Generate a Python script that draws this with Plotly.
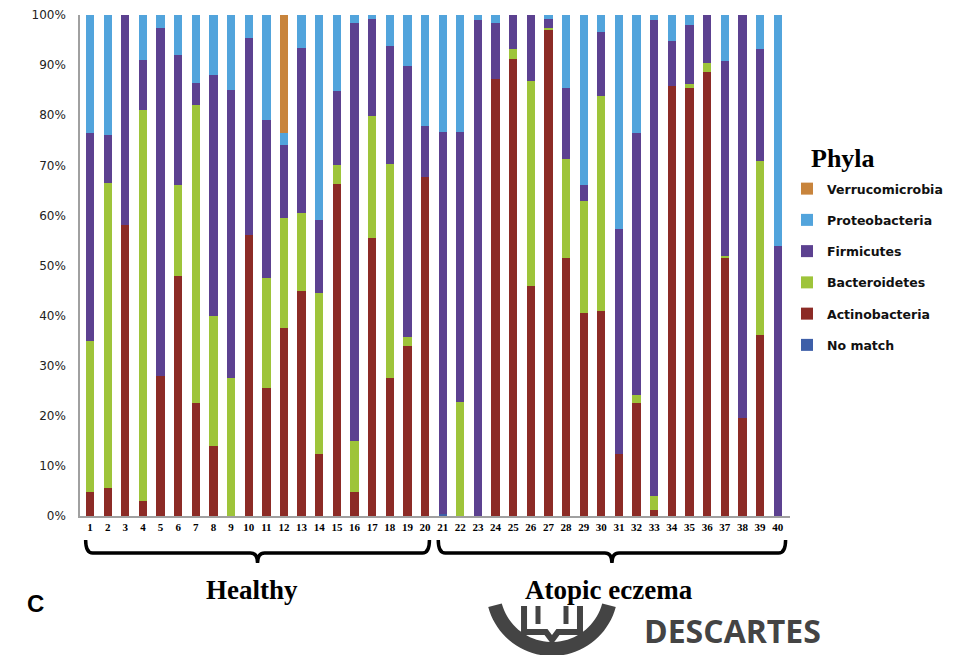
import numpy as np
import plotly.graph_objects as go

samples = [str(i) for i in range(1, 41)]

no_match = [0, 0, 0, 0, 0, 0, 0, 0, 0, 0,
            0, 0, 0, 0, 0, 0, 0, 0, 0, 0,
            0.5, 0, 0, 0, 0, 0, 0, 0, 0, 0,
            0, 0, 0, 0, 0, 0, 0, 0, 0, 0]
actinobacteria = [4.8, 5.5, 58, 3, 28, 48, 22.5, 14, 0, 56,
                  25.5, 37.5, 45, 12.3, 66.3, 4.8, 55.5, 27.5, 34, 67.7,
                  0, 0, 0, 87.3, 91.3, 46, 97, 51.5, 40.5, 41,
                  12.4, 22.6, 1.1, 85.8, 85.5, 88.6, 51.4, 19.5, 36.2, 0]
bacteroidetes = [30.2, 61, 0, 78, 0, 18, 59.5, 26, 27.5, 0,
                 22, 22, 15.5, 32.2, 3.7, 10.2, 24.3, 42.8, 1.8, 0,
                 0, 22.7, 0, 0, 1.9, 40.8, 0.5, 19.8, 22.3, 42.8,
                 0, 1.6, 2.9, 0, 0.8, 1.9, 0.4, 0, 34.7, 0]
firmicutes = [41.5, 9.5, 42, 10, 69.5, 26, 4.5, 48, 57.5, 39.5,
              31.5, 14.5, 33, 14.5, 14.8, 83.5, 19.5, 23.5, 54, 10.1,
              76.2, 54, 99, 11.2, 6.8, 13.2, 1.7, 14.2, 3.2, 12.9,
              44.8, 52.3, 95, 9, 11.8, 9.5, 39, 80.5, 22.3, 53.8]
proteobacteria = [23.5, 24, 0, 9, 2.5, 8, 13.5, 12, 15, 4.5,
                  21, 2.5, 6.5, 41, 15.2, 1.5, 0.7, 6.2, 10.2, 22.2,
                  23.3, 23.3, 1, 1.5, 0, 0, 0.8, 14.5, 34, 3.3,
                  42.8, 23.5, 1, 5.2, 1.9, 0, 9.2, 0, 6.8, 46.2]
verrucomicrobia = [0, 0, 0, 0, 0, 0, 0, 0, 0, 0,
                   0, 23.5, 0, 0, 0, 0, 0, 0, 0, 0,
                   0, 0, 0, 0, 0, 0, 0, 0, 0, 0,
                   0, 0, 0, 0, 0, 0, 0, 0, 0, 0]

series = [
    ("No match", no_match, "#3E5FA8"),
    ("Actinobacteria", actinobacteria, "#8C2B26"),
    ("Bacteroidetes", bacteroidetes, "#9EC43A"),
    ("Firmicutes", firmicutes, "#5C4190"),
    ("Proteobacteria", proteobacteria, "#52A4DC"),
    ("Verrucomicrobia", verrucomicrobia, "#C8843C"),
]

x_vals = list(range(1, 41))

fig = go.Figure()
n = len(series)
for i, (name, vals, col) in enumerate(series):
    fig.add_trace(go.Bar(
        x=x_vals, y=vals, name=name, legendgroup=name, legendrank=n - i,
        marker=dict(color=col, line=dict(width=0)),
    ))

W, H = 955, 655
L, R, T, B = 80, 165, 15, 139
PW, PH = W - L - R, H - T - B


def px(xp):
    return (xp - L) / PW


def py(yp):
    return (H - B - yp) / PH


shapes = []
# group brackets (x in data units, y in paper units)
yt, yl, yc = py(540), py(553), py(563)
for a, b, c in [(0.75, 20.25, 10.5), (20.75, 40.45, 30.6)]:
    d = 0.4
    path = (f"M {a},{yt} Q {a},{yl} {a+d},{yl} L {c-d},{yl} Q {c},{yl} {c},{yc} "
            f"Q {c},{yl} {c+d},{yl} L {b-d},{yl} Q {b},{yl} {b},{yt}")
    shapes.append(dict(type="path", path=path, xref="x", yref="paper",
                       line=dict(color="black", width=3.5)))

# watermark logo (approximate)
cx, cy = 552, 590
ro, ri = 66, 52
ang = np.linspace(np.deg2rad(15), np.deg2rad(165), 40)
outer = [(cx + ro * np.cos(t), cy + ro * np.sin(t)) for t in ang]
inner = [(cx + ri * np.cos(t), cy + ri * np.sin(t)) for t in ang[::-1]]
pts = outer + inner
p = "M " + " L ".join(f"{px(x):.4f},{py(y):.4f}" for x, y in pts) + " Z"
shapes.append(dict(type="path", path=p, xref="paper", yref="paper",
                   fillcolor="#444444", line=dict(width=0)))
# inner book shape
bk = [(524, 606), (524, 632), (546, 632), (552, 640), (558, 632), (580, 632), (580, 606)]
p2 = "M " + " L ".join(f"{px(x):.4f},{py(y):.4f}" for x, y in bk)
shapes.append(dict(type="path", path=p2, xref="paper", yref="paper",
                   line=dict(color="#444444", width=6)))
for xx in (538, 566):
    shapes.append(dict(type="line", xref="paper", yref="paper",
                       x0=px(xx), x1=px(xx), y0=py(606), y1=py(624),
                       line=dict(color="#444444", width=5)))


def ann(text, x, y, family, size, color="black", xanchor="center"):
    return dict(text=text, x=px(x), y=py(y), xref="paper", yref="paper",
                xanchor=xanchor, yanchor="middle", showarrow=False,
                font=dict(family=family, size=size, color=color))


annotations = [
    ann("<b>Healthy</b>", 252, 590, "Liberation Serif", 27),
    ann("<b>Atopic eczema</b>", 609, 590, "Liberation Serif", 27),
    ann("<b>C</b>", 35, 603, "Liberation Sans", 24),
    ann("<b>Phyla</b>", 809, 158, "Liberation Serif", 26, xanchor="left"),
    ann("<b>DESCARTES</b>", 732, 630, "Open Sans", 32, color="#444444"),
]

fig.update_layout(
    width=W, height=H,
    margin=dict(l=L, r=R, t=T, b=B, pad=0, autoexpand=False),
    paper_bgcolor="white", plot_bgcolor="white",
    barmode="stack", bargap=0.53,
    showlegend=True,
    legend=dict(
        traceorder="grouped", tracegroupgap=12,
        x=px(787), y=py(174), xanchor="left", yanchor="top",
        font=dict(family="DejaVu Sans", size=12.5, color="#111111", weight="bold"),
        itemwidth=30, bgcolor="rgba(0,0,0,0)",
    ),
    xaxis=dict(
        range=[0.43, 40.7], tickmode="array", tickvals=x_vals, ticktext=samples,
        showline=True, linecolor="#A0A0A0", linewidth=1.5, showgrid=False,
        zeroline=False, ticks="",
        tickfont=dict(family="Liberation Serif", size=11, color="black", weight="bold"),
    ),
    yaxis=dict(
        range=[0, 100], tickmode="array", tickvals=list(range(0, 101, 10)),
        ticktext=[f"{v}%" for v in range(0, 101, 10)],
        showline=True, linecolor="#A0A0A0", linewidth=1.5, showgrid=False,
        zeroline=False, ticks="", ticklabelstandoff=10,
        tickfont=dict(family="DejaVu Sans", size=12, color="#222222"),
    ),
    shapes=shapes,
    annotations=annotations,
)

fig.write_html(
    "out.html",
    config={"displayModeBar": False},
    post_script="document.body.style.margin='0';document.body.style.overflow='hidden';",
)
